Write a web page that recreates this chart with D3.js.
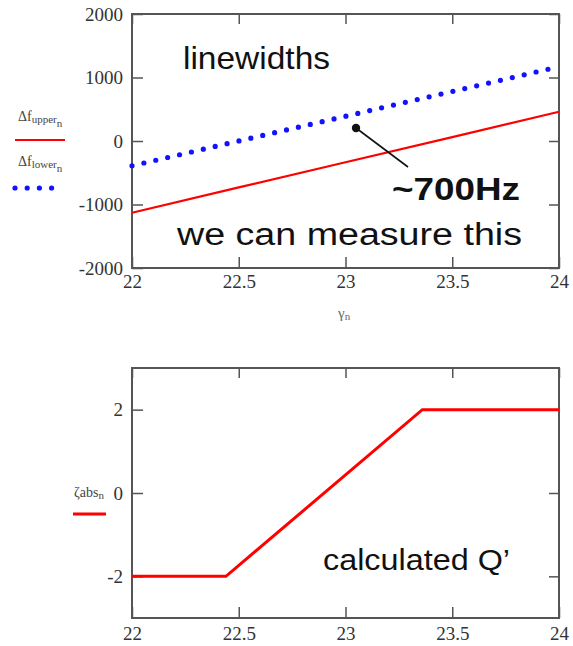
<!DOCTYPE html>
<html>
<head>
<meta charset="utf-8">
<script src="https://cdn.jsdelivr.net/npm/d3@7"></script>
<style>
  body { margin: 0; background: #fff; }
  .tick line { stroke: #555; stroke-width: 1.5; }
  .frame { fill: none; stroke: #555; stroke-width: 2; }
  .note { font-family: "Liberation Sans", Arial, sans-serif; fill: #111; }
  .leg { font-family: "Liberation Serif", "DejaVu Serif", serif; fill: #444; }
</style>
</head>
<body>
<svg id="chart" width="573" height="646"></svg>
<script>
// top panel: linewidths vs gamma
var gamma_top = [22, 22.5, 23, 23.5, 24]
var df_upper = [-1130, -730, -335, 60, 460]
var df_lower = [-390, 0, 390, 780, 1170]
var y_ticks_top = [-2000, -1000, 0, 1000, 2000]

// bottom panel: chromaticity
var gamma_bot = [22, 22.44, 23.36, 24]
var chi_abs = [-2, -2, 2, 2]
var y_ticks_bot = [-2, 0, 2]

var x_ticks = [22, 22.5, 23, 23.5, 24]

var svg = d3.select("#chart")

var left = 132, right = 559

function styleAxis(sel){
	sel.selectAll("text")
		.style("font-family", "'Liberation Serif', 'Times New Roman', serif")
		.style("font-size", "19px")
		.style("fill", "#333")
}

function panel(top, bottom, ydom, yticks, xlabelPad){
	var x = d3.scaleLinear().domain([22, 24]).range([left, right])
	var y = d3.scaleLinear().domain(ydom).range([bottom, top])
	var g = svg.append("g")

	// left axis with labels, ticks inward
	g.append("g")
		.attr("transform", "translate(" + left + ",0)")
		.call(d3.axisLeft(y).tickValues(yticks).tickSizeInner(-11).tickSizeOuter(0).tickPadding(9).tickFormat(d => String(d)))
		.call(styleAxis)
	g.append("g")
		.attr("transform", "translate(" + right + ",0)")
		.call(d3.axisRight(y).tickValues(yticks).tickSizeInner(-10).tickSizeOuter(0).tickFormat(""))
	g.append("g")
		.attr("transform", "translate(0," + bottom + ")")
		.call(d3.axisBottom(x).tickValues(x_ticks).tickSizeInner(-11).tickSizeOuter(0).tickPadding(xlabelPad).tickFormat(d => String(d)))
		.call(styleAxis)
	g.append("g")
		.attr("transform", "translate(0," + top + ")")
		.call(d3.axisTop(x).tickValues(x_ticks).tickSizeInner(-10).tickSizeOuter(0).tickFormat(""))
	g.selectAll(".domain").remove()

	g.append("rect")
		.attr("class", "frame")
		.attr("x", left).attr("y", top)
		.attr("width", right - left).attr("height", bottom - top)
	return {x: x, y: y, g: g}
}

// ---- top panel
var p1 = panel(14, 268, [-2000, 2000], y_ticks_top, 7)
var pts_up = gamma_top.map((d, i) => [d, df_upper[i]])
var pts_lo = gamma_top.map((d, i) => [d, df_lower[i]])

p1.g.append("path")
	.datum(pts_up)
	.attr("fill", "none")
	.attr("stroke", "#f00")
	.attr("stroke-width", 2.2)
	.attr("d", d3.line().x(d => p1.x(d[0])).y(d => p1.y(d[1])))

p1.g.append("path")
	.datum(pts_lo)
	.attr("fill", "none")
	.attr("stroke", "#1212ff")
	.attr("stroke-width", 5.2)
	.attr("stroke-linecap", "round")
	.attr("stroke-dasharray", "0 12.2")
	.attr("d", d3.line().x(d => p1.x(d[0])).y(d => p1.y(d[1])))

// annotation pointer
p1.g.append("line")
	.attr("x1", 356).attr("y1", 128).attr("x2", 408).attr("y2", 167)
	.attr("stroke", "#111").attr("stroke-width", 1.6)
p1.g.append("circle")
	.attr("cx", 356).attr("cy", 128).attr("r", 4.2).attr("fill", "#111")

svg.append("text").attr("class", "note")
	.attr("x", 183).attr("y", 69).attr("font-size", 32)
	.attr("textLength", 147).attr("lengthAdjust", "spacingAndGlyphs")
	.text("linewidths")
svg.append("text").attr("class", "note")
	.attr("x", 392).attr("y", 200).attr("font-size", 32).attr("font-weight", "bold")
	.attr("textLength", 128).attr("lengthAdjust", "spacingAndGlyphs")
	.text("~700Hz")
svg.append("text").attr("class", "note")
	.attr("x", 177).attr("y", 245).attr("font-size", 31)
	.attr("textLength", 345).attr("lengthAdjust", "spacingAndGlyphs")
	.text("we can measure this")

// x axis title
var xt = svg.append("text").attr("class", "leg")
	.attr("x", 338).attr("y", 318).attr("font-size", 15).style("fill", "#666")
xt.append("tspan").text("γ")
xt.append("tspan").attr("font-size", 11).attr("dy", 2).text("n")

// legend top
var l1 = svg.append("text").attr("class", "leg").attr("x", 18).attr("y", 121).attr("font-size", 14)
l1.append("tspan").text("Δf")
l1.append("tspan").attr("font-size", 11).attr("dy", 2).text("upper")
l1.append("tspan").attr("font-size", 11).attr("dy", 4).text("n")
svg.append("line").attr("x1", 15).attr("x2", 65).attr("y1", 140).attr("y2", 140)
	.attr("stroke", "#f00").attr("stroke-width", 2.2)

var l2 = svg.append("text").attr("class", "leg").attr("x", 18).attr("y", 166).attr("font-size", 14)
l2.append("tspan").text("Δf")
l2.append("tspan").attr("font-size", 11).attr("dy", 2).text("lower")
l2.append("tspan").attr("font-size", 11).attr("dy", 4).text("n")
svg.append("line").attr("x1", 15).attr("x2", 56).attr("y1", 188).attr("y2", 188)
	.attr("stroke", "#1212ff").attr("stroke-width", 5.2)
	.attr("stroke-linecap", "round").attr("stroke-dasharray", "0 12.2")

// ---- bottom panel
var p2 = panel(368, 618, [-3, 3], y_ticks_bot, 9)
var pts_chi = gamma_bot.map((d, i) => [d, chi_abs[i]])
p2.g.append("path")
	.datum(pts_chi)
	.attr("fill", "none")
	.attr("stroke", "#f00")
	.attr("stroke-width", 3)
	.attr("d", d3.line().x(d => p2.x(d[0])).y(d => p2.y(d[1])))

svg.append("text").attr("class", "note")
	.attr("x", 323).attr("y", 570).attr("font-size", 30)
	.attr("textLength", 187).attr("lengthAdjust", "spacingAndGlyphs")
	.text("calculated Q’")

var l3 = svg.append("text").attr("class", "leg").attr("x", 74).attr("y", 497).attr("font-size", 14)
l3.append("tspan").text("ζabs")
l3.append("tspan").attr("font-size", 11).attr("dy", 2).text("n")
svg.append("line").attr("x1", 73).attr("x2", 106).attr("y1", 514).attr("y2", 514)
	.attr("stroke", "#f00").attr("stroke-width", 3)
</script>
</body>
</html>
